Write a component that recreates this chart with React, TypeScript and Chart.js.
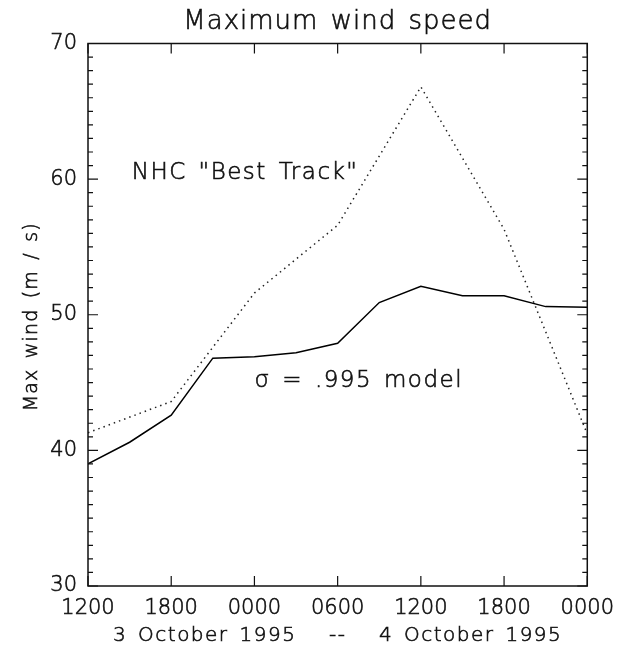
import React, { useEffect, useRef } from "react";
import { Chart, registerables } from "chart.js";

Chart.register(...registerables);

// Hours after 1200 UTC, 3 October 1995
const modelHours = [0, 3, 6, 9, 12, 15, 18, 21, 24, 27, 30, 33, 36];
const modelWind = [39.0, 40.6, 42.6, 46.8, 46.9, 47.2, 47.9, 50.9, 52.1, 51.4, 51.4, 50.6, 50.55];

const bestTrackHours = [0, 6, 12, 18, 24, 30, 36];
const bestTrackWind = [41.3, 43.6, 51.6, 56.6, 66.8, 56.3, 41.2];

const xTickHours = [0, 6, 12, 18, 24, 30, 36];
const xTickLabels = ["1200", "1800", "0000", "0600", "1200", "1800", "0000"];
const yTickValues = [30, 40, 50, 60, 70];

const titleText = "Maximum wind speed";
const yAxisTitle = "Max wind (m / s)";
const xAxisTitle = "3 October 1995   --   4 October 1995";
const bestTrackLabel = 'NHC "Best Track"';
const modelLabel = "\u03c3 = .995 model";

const FONT = '"DejaVu Sans", sans-serif';
const INK = "#111";

function drawText(
  ctx: CanvasRenderingContext2D,
  text: string,
  x: number,
  y: number,
  size: number,
  spacing: number,
  align: CanvasTextAlign,
  rotate = false
) {
  ctx.save();
  ctx.font = `300 ${size}px ${FONT}`;
  (ctx as any).letterSpacing = `${spacing}px`;
  (ctx as any).wordSpacing = "3px";
  ctx.textAlign = align;
  ctx.textBaseline = "alphabetic";
  ctx.fillStyle = INK;
  ctx.strokeStyle = INK;
  ctx.lineWidth = 0.6;
  ctx.translate(x, y);
  if (rotate) ctx.rotate(-Math.PI / 2);
  ctx.fillText(text, 0, 0);
  ctx.strokeText(text, 0, 0);
  ctx.restore();
}

export default function App() {
  const ref = useRef<HTMLCanvasElement>(null);

  useEffect(() => {
    const canvas = ref.current;
    if (!canvas) return;

    const framePlugin = {
      id: "idlFrame",
      afterDatasetsDraw(chart: any) {
        const { ctx, chartArea: a, scales } = chart;
        const xs = scales.x;
        const ys = scales.y;
        ctx.save();
        ctx.strokeStyle = INK;
        ctx.lineWidth = 1.5;
        ctx.strokeRect(a.left, a.top, a.right - a.left, a.bottom - a.top);
        ctx.lineWidth = 1.2;
        ctx.beginPath();
        for (const h of xTickHours) {
          const px = xs.getPixelForValue(h);
          ctx.moveTo(px, a.bottom);
          ctx.lineTo(px, a.bottom - 10);
          ctx.moveTo(px, a.top);
          ctx.lineTo(px, a.top + 10);
        }
        for (let v = ys.min; v <= ys.max; v += 1) {
          const py = ys.getPixelForValue(v);
          const len = v % 10 === 0 ? 10 : 5;
          ctx.moveTo(a.left, py);
          ctx.lineTo(a.left + len, py);
          ctx.moveTo(a.right, py);
          ctx.lineTo(a.right - len, py);
        }
        ctx.stroke();
        ctx.restore();
      },
      afterDraw(chart: any) {
        const { ctx, chartArea: a, scales } = chart;
        const xs = scales.x;
        const ys = scales.y;
        const cx = (a.left + a.right) / 2;
        const cy = (a.top + a.bottom) / 2;
        drawText(ctx, titleText, cx, 28.5, 26, 1, "center");
        drawText(ctx, xAxisTitle, cx, 641, 20, 1.5, "center");
        drawText(ctx, yAxisTitle, 37, cy + 2, 19, 1.2, "center", true);
        drawText(ctx, bestTrackLabel, xs.getPixelForValue(3.15), ys.getPixelForValue(60.0), 23, 1.5, "left");
        drawText(ctx, modelLabel, xs.getPixelForValue(12.0), ys.getPixelForValue(44.7), 23, 1.5, "left");
      },
    };

    const tickFont = { family: FONT, size: 21, weight: "300" as any };

    const chart = new Chart(canvas, {
      type: "line",
      data: {
        datasets: [
          {
            label: bestTrackLabel,
            data: bestTrackHours.map((h, i) => ({ x: h, y: bestTrackWind[i] })),
            borderColor: "#222",
            borderWidth: 1.5,
            borderDash: [1.5, 4],
            pointRadius: 0,
            tension: 0,
            fill: false,
          },
          {
            label: modelLabel,
            data: modelHours.map((h, i) => ({ x: h, y: modelWind[i] })),
            borderColor: "#000",
            borderWidth: 1.5,
            pointRadius: 0,
            tension: 0,
            fill: false,
          },
        ],
      },
      options: {
        animation: false,
        responsive: false,
        maintainAspectRatio: false,
        layout: { padding: { left: 0, top: 43.5, right: 36, bottom: 0 } },
        plugins: {
          legend: { display: false },
          tooltip: { enabled: false },
          title: { display: false },
        },
        scales: {
          x: {
            type: "linear",
            min: 0,
            max: 36,
            border: { display: false },
            grid: { display: false, drawTicks: false },
            afterBuildTicks: (scale: any) => {
              scale.ticks = xTickHours.map((v) => ({ value: v }));
            },
            afterFit: (scale: any) => {
              scale.height = 65;
            },
            ticks: {
              autoSkip: false,
              maxRotation: 0,
              padding: 10,
              color: INK,
              textStrokeColor: INK,
              textStrokeWidth: 0.6,
              font: tickFont,
              callback: (v: any) => {
                const i = xTickHours.indexOf(Number(v));
                return i >= 0 ? xTickLabels[i] : "";
              },
            } as any,
          },
          y: {
            type: "linear",
            min: 30,
            max: 70,
            border: { display: false },
            grid: { display: false, drawTicks: false },
            afterBuildTicks: (scale: any) => {
              scale.ticks = yTickValues.map((v) => ({ value: v }));
            },
            afterFit: (scale: any) => {
              scale.width = 88;
            },
            ticks: {
              padding: 11,
              color: INK,
              textStrokeColor: INK,
              textStrokeWidth: 0.6,
              font: tickFont,
              callback: (v: any) => String(v),
            } as any,
          },
        },
      },
      plugins: [framePlugin],
    });

    return () => chart.destroy();
  }, []);

  return (
    <div style={{ position: "absolute", left: 0, top: 0, width: 624, height: 651, background: "#fff" }}>
      <canvas ref={ref} width={624} height={651} style={{ display: "block" }} />
    </div>
  );
}
